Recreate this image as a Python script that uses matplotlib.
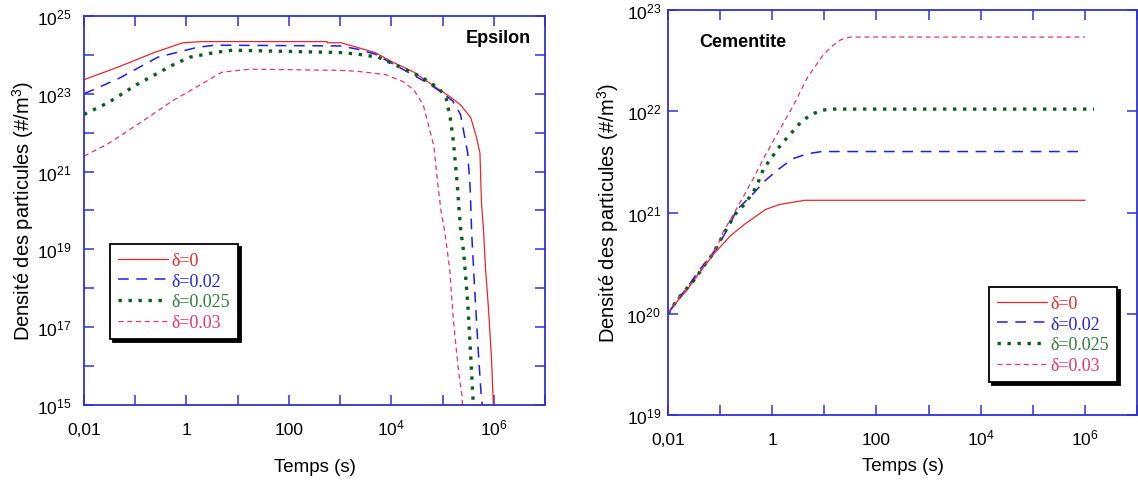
import numpy as np
import matplotlib
matplotlib.use('Agg')
import matplotlib.pyplot as plt
from matplotlib.ticker import NullLocator

plt.rcParams['font.family'] = ['Liberation Sans', 'DejaVu Sans']
plt.rcParams['mathtext.fontset'] = 'custom'
plt.rcParams['mathtext.rm'] = 'Liberation Sans'
plt.rcParams['mathtext.it'] = 'Liberation Sans:italic'
plt.rcParams['mathtext.bf'] = 'Liberation Sans:bold'

# --- Epsilon (gauche) : temps (s) et densite (#/m3) ---
eps_t_0 = [1e-2, 0.047, 0.234, 0.85, 2.0, 560, 560, 1050, 4800, 1.07e4, 2.75e4, 7.2e4,
           1.38e5, 2.24e5, 3.55e5, 4.57e5, 5.37e5, 5.75e5, 6.3e5, 6.9e5, 7.9e5, 9.1e5, 9.8e5]
eps_n_0 = [2.3e23, 4.9e23, 1.15e24, 2.05e24, 2.2e24, 2.2e24, 2.05e24, 2.05e24, 1.15e24, 6.5e23,
           3.6e23, 1.5e23, 8.5e22, 5.2e22, 2.45e22, 7.8e21, 3.0e21, 1.6e20, 3.2e19, 3.2e18,
           2.9e17, 1.26e16, 1e15]

eps_t_02 = [1e-2, 0.047, 0.275, 1.58, 3.55, 1000, 2140, 4800, 1.07e4, 5.25e4, 1e5, 1.58e5,
            2.24e5, 2.57e5, 3.1e5, 3.47e5, 3.7e5, 4.2e5, 5.0e5, 5.75e5, 6.0e5]
eps_n_02 = [1e23, 2.45e23, 8.7e23, 1.55e24, 1.78e24, 1.7e24, 1.41e24, 1.05e24, 5.9e23, 1.86e23,
            1.05e23, 6.5e22, 2.95e22, 1.12e22, 2.95e21, 3.5e20, 2.7e19, 1.15e18, 2.2e16, 1.4e15, 1e15]

eps_t_025 = [1e-2, 0.0295, 0.105, 0.525, 1.15, 3.55, 7.9, 1000, 2140, 5600, 1.07e4, 3.8e4,
             8.5e4, 1.17e5, 1.41e5, 1.62e5, 1.9e5, 2.24e5, 2.6e5, 3.1e5, 3.6e5, 3.9e5, 4.0e5]
eps_n_025 = [2.95e22, 5.9e22, 1.7e23, 5.4e23, 8.7e23, 1.15e24, 1.32e24, 1.15e24, 1.05e24, 8.7e23,
             5.9e23, 2.75e23, 1.38e23, 7.8e22, 2.45e22, 6.3e21, 6.3e20, 3.5e19, 7.9e18, 4.3e17,
             1.26e16, 1.7e15, 1e15]

eps_t_03 = [1e-2, 0.0295, 0.145, 0.525, 1.86, 4.9, 17.8, 1000, 2140, 7800, 1.7e4, 2.75e4,
            4.2e4, 5.25e4, 6.8e4, 7.9e4, 9.3e4, 1.12e5, 1.38e5, 1.62e5, 2.04e5, 2.4e5, 2.45e5]
eps_n_03 = [2.5e21, 5.2e21, 2.05e22, 6.5e22, 1.7e23, 3.6e23, 4.3e23, 4.0e23, 3.8e23, 3.1e23,
            2.05e23, 1.26e23, 5.2e22, 1.66e22, 4.4e21, 6.3e20, 1e20, 2.5e19, 3.1e18, 1.6e17,
            7.9e15, 1.7e15, 1e15]

# --- Cementite (droite) ---
cem_t_0 = [1e-2, 0.0155, 0.0229, 0.0355, 0.079, 0.158, 0.29, 0.74, 1.38, 4.2, 1e6]
cem_n_0 = [1e20, 1.35e20, 1.7e20, 2.35e20, 4.0e20, 5.9e20, 7.6e20, 1.07e21, 1.2e21, 1.32e21, 1.32e21]

cem_t_02 = [1e-2, 0.0155, 0.0229, 0.037, 0.063, 0.089, 0.151, 0.204, 0.39, 0.72, 1.35, 2.5,
            4.7, 8.9, 9e5]
cem_n_02 = [1e20, 1.41e20, 1.78e20, 2.57e20, 3.6e20, 4.6e20, 7.4e20, 1.05e21, 1.45e21, 2.05e21,
            2.7e21, 3.4e21, 3.8e21, 4.0e21, 4.0e21]

cem_t_025 = [1e-2, 0.0155, 0.0229, 0.034, 0.047, 0.065, 0.089, 0.112, 0.19, 0.29, 0.43, 0.54,
             0.68, 1.1, 1.48, 2.2, 3.55, 5.6, 8.9, 12.6, 1.5e6]
cem_n_025 = [1e20, 1.41e20, 1.78e20, 2.24e20, 2.9e20, 3.6e20, 4.7e20, 5.9e20, 9.5e20, 1.2e21,
             1.58e21, 2.0e21, 2.7e21, 3.8e21, 4.7e21, 5.9e21, 7.8e21, 9.3e21, 1.02e22, 1.05e22,
             1.05e22]

cem_t_03 = [1e-2, 0.0155, 0.0229, 0.034, 0.047, 0.065, 0.089, 0.112, 0.178, 0.31, 0.46, 0.72,
            1.07, 1.58, 2.5, 4.7, 9.5, 14.1, 20.9, 31.6, 1e6]
cem_n_03 = [1e20, 1.41e20, 1.78e20, 2.24e20, 2.9e20, 3.6e20, 4.7e20, 6.3e20, 9.5e20, 1.58e21,
            2.3e21, 3.6e21, 5.2e21, 7.4e21, 1.12e22, 2.14e22, 3.6e22, 4.4e22, 5.1e22, 5.4e22, 5.4e22]

labels = ['δ=0', 'δ=0.02', 'δ=0.025', 'δ=0.03']
line_colors = ['#e8262b', '#1c1ce8', '#0a5c1c', '#e2336b']
text_colors = ['#e8262b', '#2323e0', '#2e7d3c', '#e8336b']

x_ticks = [1e-2, 1e-1, 1, 10, 100, 1e3, 1e4, 1e5, 1e6, 1e7]
x_ticklabels = ['0,01', '', '1', '', '100', '', '$10^{4}$', '', '$10^{6}$', '']
eps_y_ticks = [1e15, 1e16, 1e17, 1e18, 1e19, 1e20, 1e21, 1e22, 1e23, 1e24, 1e25]
eps_y_ticklabels = ['$10^{15}$', '', '$10^{17}$', '', '$10^{19}$', '', '$10^{21}$', '',
                    '$10^{23}$', '', '$10^{25}$']
cem_y_ticks = [1e19, 1e20, 1e21, 1e22, 1e23]
cem_y_ticklabels = ['$10^{19}$', '$10^{20}$', '$10^{21}$', '$10^{22}$', '$10^{23}$']

styles = [dict(lw=0.9, ls='-'),
          dict(lw=1.1, ls=(0, (7, 5))),
          dict(lw=2.4, ls=(0, (1, 2))),
          dict(lw=0.9, ls=(0, (4, 3)))]
frame_blue = '#3030d4'

fig = plt.figure(figsize=(11.38, 4.81), dpi=100)
ax1 = fig.add_axes([84 / 1138, 75 / 481, 461 / 1138, 389 / 481])
ax2 = fig.add_axes([668 / 1138, 65 / 481, 469 / 1138, 405 / 481])

eps_series = [(eps_t_0, eps_n_0), (eps_t_02, eps_n_02), (eps_t_025, eps_n_025), (eps_t_03, eps_n_03)]
cem_series = [(cem_t_0, cem_n_0), (cem_t_02, cem_n_02), (cem_t_025, cem_n_025), (cem_t_03, cem_n_03)]

for ax, series in [(ax1, eps_series), (ax2, cem_series)]:
    for (t, n), lab, c, st in zip(series, labels, line_colors, styles):
        ax.plot(t, n, color=c, label=lab, **st)
    ax.set_xscale('log')
    ax.set_yscale('log')
    ax.set_xlim(1e-2, 1e7)
    ax.set_xticks(x_ticks)
    ax.set_xticklabels(x_ticklabels)
    ax.xaxis.set_minor_locator(NullLocator())
    ax.yaxis.set_minor_locator(NullLocator())
    for sp in ax.spines.values():
        sp.set_color(frame_blue)
        sp.set_linewidth(1.3)
    ax.tick_params(which='major', direction='in', length=7, width=1.1, color=frame_blue,
                   top=True, right=True, labelsize=12.5)
    ax.tick_params(axis='x', pad=21)
    ax.set_xlabel('Temps (s)', fontsize=13.5)
    ax.set_ylabel('Densité des particules (#/m$^3$)', fontsize=14.5)

ax1.set_ylim(1e15, 1e25)
ax1.set_yticks(eps_y_ticks)
ax1.set_yticklabels(eps_y_ticklabels)
ax1.yaxis.set_minor_locator(NullLocator())
ax1.tick_params(axis='y', pad=9)
ax2.set_ylim(1e19, 1e23)
ax2.set_yticks(cem_y_ticks)
ax2.set_yticklabels(cem_y_ticklabels)
ax2.yaxis.set_minor_locator(NullLocator())
ax2.tick_params(axis='y', pad=5)

for ax in (ax1, ax2):
    plt.setp(ax.get_xticklabels(), va='baseline')

ax1.xaxis.set_label_coords(0.5, -0.135)
ax2.xaxis.set_label_coords(0.5, -0.103)
ax1.yaxis.set_label_coords(-0.104, 0.5)
ax2.yaxis.set_label_coords(-0.100, 0.5)

ax1.text(0.97, 0.946, 'Epsilon', transform=ax1.transAxes, ha='right', va='center',
         fontsize=13, fontweight='bold')
ax2.text(0.066, 0.921, 'Cementite', transform=ax2.transAxes, ha='left', va='center',
         fontsize=13, fontweight='bold')

for ax, anchor in [(ax1, (0.056, 0.414)), (ax2, (0.684, 0.316))]:
    leg = ax.legend(loc='upper left', bbox_to_anchor=anchor, borderaxespad=0,
                    prop={'family': 'Liberation Serif', 'size': 13},
                    handlelength=2.8, handletextpad=0.15, labelspacing=0.2,
                    borderpad=0.45, fancybox=False, framealpha=1,
                    shadow={'color': 'black', 'alpha': 1})
    leg.get_frame().set_edgecolor('black')
    leg.get_frame().set_linewidth(1.3)
    for txt, c in zip(leg.get_texts(), text_colors):
        txt.set_color(c)

plt.savefig('out.png', dpi=100)
plt.close()
